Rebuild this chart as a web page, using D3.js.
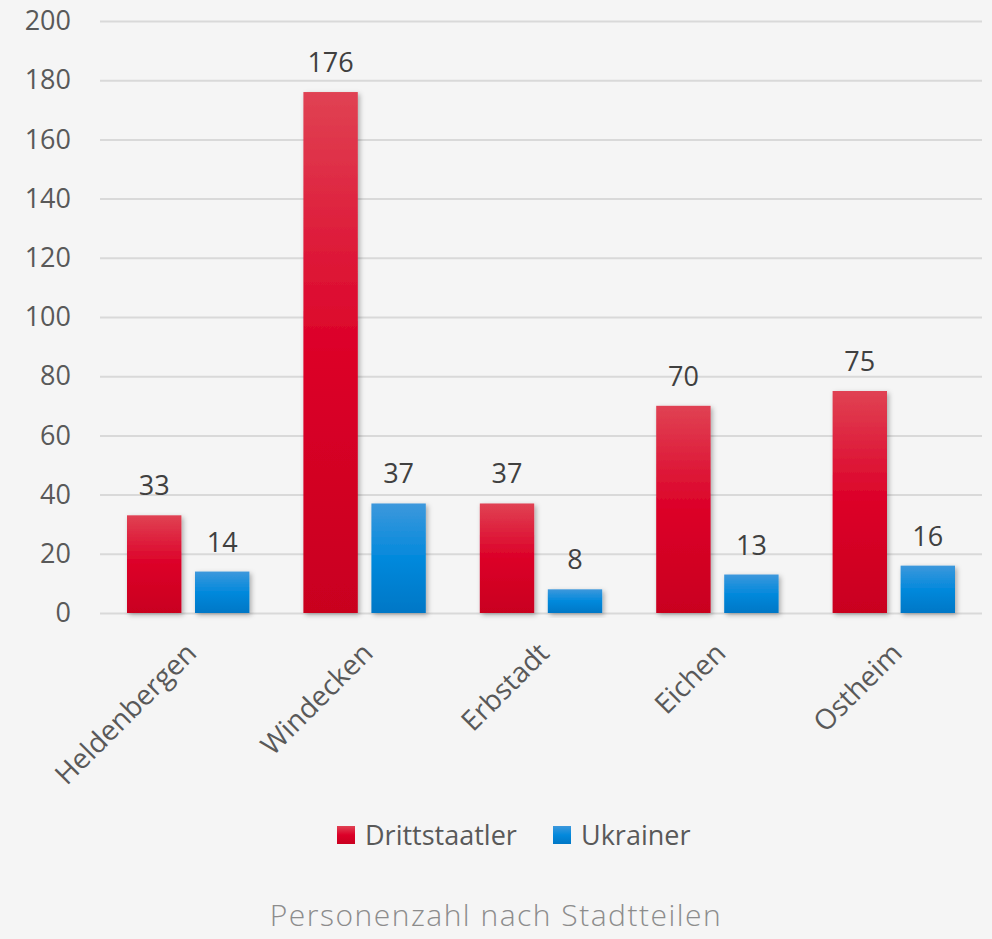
<!DOCTYPE html>
<html>
<head>
<meta charset="utf-8">
<script src="https://cdn.jsdelivr.net/npm/d3@7"></script>
<style>
  html, body { margin: 0; padding: 0; background: #f5f5f5; }
  svg { display: block; }
</style>
</head>
<body>
<div id="chart"></div>
<script>
// Personen je Stadtteil
const categories = ["Heldenbergen", "Windecken", "Erbstadt", "Eichen", "Ostheim"];
const seriesNames = ["Drittstaatler", "Ukrainer"];
const drittstaatler = [33, 176, 37, 70, 75];
const ukrainer = [14, 37, 8, 13, 16];
const yTicks = [0, 20, 40, 60, 80, 100, 120, 140, 160, 180, 200];
const title = "Personenzahl nach Stadtteilen";

const W = 992, H = 939;
const margin = { top: 21, right: 10, bottom: 326, left: 100 };
const width = W - margin.left - margin.right;
const height = H - margin.top - margin.bottom;

const font = "'Open Sans', sans-serif";

const svg = d3.select("#chart").append("svg")
  .attr("width", W)
  .attr("height", H)
  .style("background", "#f5f5f5");

const defs = svg.append("defs");

function gradient(id, stops) {
  let g = defs.append("linearGradient")
    .attr("id", id)
    .attr("x1", 0).attr("y1", 0).attr("x2", 0).attr("y2", 1);
  stops.forEach(s => g.append("stop").attr("offset", s[0]).attr("stop-color", s[1]));
}
gradient("gRed", [[0, "#e04253"], [0.5, "#dc0028"], [1, "#c9001f"]]);
gradient("gBlue", [[0, "#3d98dc"], [0.5, "#0389dc"], [1, "#0077c6"]]);

let f = defs.append("filter").attr("id", "shadow")
  .attr("x", "-20%").attr("y", "-10%").attr("width", "150%").attr("height", "130%");
f.append("feDropShadow")
  .attr("dx", 2).attr("dy", 2).attr("stdDeviation", 2.5)
  .attr("flood-color", "#000").attr("flood-opacity", 0.3);

const colors = ["url(#gRed)", "url(#gBlue)"];

const g = svg.append("g")
  .attr("transform", "translate(" + margin.left + "," + margin.top + ")");

let x0 = d3.scaleBand()
  .domain(categories)
  .range([0, width]);

let x1 = d3.scaleBand()
  .domain(seriesNames)
  .range([27, x0.bandwidth() - 27])
  .paddingInner(0.2);

let y = d3.scaleLinear()
  .domain([0, 200])
  .range([height, 0]);

// grid
g.append("g")
  .call(d3.axisLeft(y).tickValues(yTicks).tickSize(-width).tickFormat(""))
  .call(a => a.select(".domain").remove())
  .selectAll("line")
  .attr("stroke", "#d9d9d9")
  .attr("stroke-width", 2);

// y labels
g.append("g")
  .call(d3.axisLeft(y).tickValues(yTicks).tickSize(0).tickPadding(29))
  .call(a => a.select(".domain").remove())
  .selectAll("text")
  .attr("fill", "#595959")
  .style("font-family", font)
  .style("font-size", "27px");

const values = [drittstaatler, ukrainer];

seriesNames.forEach((s, si) => {
  let grp = g.append("g");
  grp.selectAll("rect")
    .data(values[si])
    .enter()
    .append("rect")
    .attr("x", (d, i) => x0(categories[i]) + x1(s))
    .attr("y", d => y(d))
    .attr("width", x1.bandwidth())
    .attr("height", d => height - y(d))
    .attr("fill", colors[si])
    .attr("filter", "url(#shadow)");

  grp.selectAll("text")
    .data(values[si])
    .enter()
    .append("text")
    .attr("x", (d, i) => x0(categories[i]) + x1(s) + x1.bandwidth() / 2)
    .attr("y", d => y(d) - 20)
    .attr("text-anchor", "middle")
    .attr("fill", "#404040")
    .style("font-family", font)
    .style("font-size", "27px")
    .text(d => d);
});

// x labels
g.append("g")
  .attr("transform", "translate(0," + height + ")")
  .call(d3.axisBottom(x0).tickSize(0).tickPadding(0))
  .call(a => a.select(".domain").remove())
  .selectAll("text")
  .attr("text-anchor", "end")
  .attr("transform", "translate(3,35) rotate(-45)")
  .attr("dy", "0.35em")
  .attr("fill", "#595959")
  .style("font-family", font)
  .style("font-size", "28px");

// legend
const legendX = [337, 553];
let legend = svg.append("g");
seriesNames.forEach((s, i) => {
  legend.append("rect")
    .attr("x", legendX[i]).attr("y", 826)
    .attr("width", 18).attr("height", 18)
    .attr("fill", colors[i]);
  legend.append("text")
    .attr("x", legendX[i] + 28).attr("y", 845)
    .attr("fill", "#595959")
    .style("font-family", font)
    .style("font-size", "27px")
    .text(s);
});

svg.append("text")
  .attr("x", W / 2).attr("y", 926)
  .attr("text-anchor", "middle")
  .attr("fill", "#8c8c8c")
  .style("font-family", font)
  .style("font-weight", 300)
  .style("font-size", "30px")
  .style("letter-spacing", "1.5px")
  .text(title);
</script>
</body>
</html>
